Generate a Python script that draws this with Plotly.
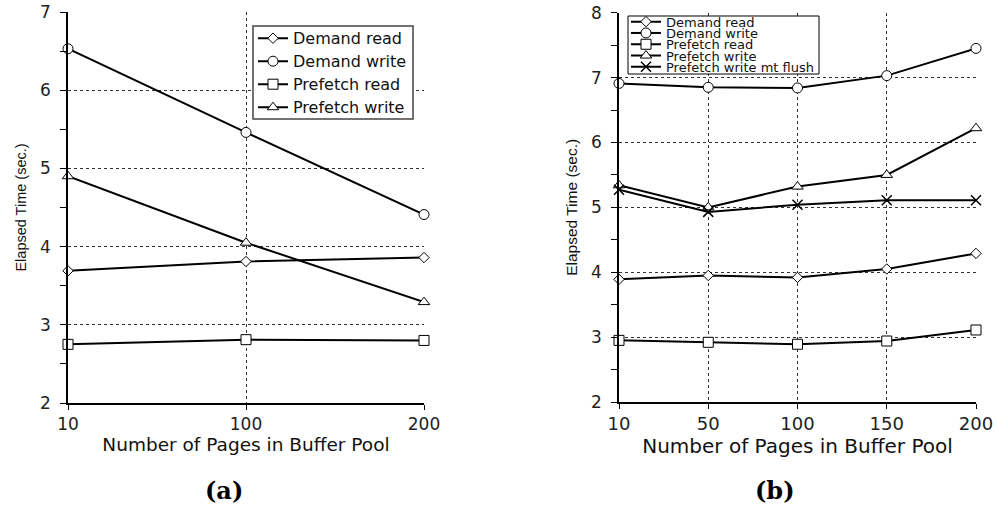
import plotly.graph_objects as go

# ---- data: panel (a) ----
pages_a = ["10", "100", "200"]
demand_read_a = [3.69, 3.81, 3.86]
demand_write_a = [6.53, 5.46, 4.41]
prefetch_read_a = [2.75, 2.81, 2.80]
prefetch_write_a = [4.90, 4.05, 3.29]

# ---- data: panel (b) ----
pages_b = ["10", "50", "100", "150", "200"]
demand_read_b = [3.89, 3.95, 3.92, 4.05, 4.29]
demand_write_b = [6.91, 6.85, 6.84, 7.03, 7.45]
prefetch_read_b = [2.95, 2.92, 2.89, 2.94, 3.11]
prefetch_write_b = [5.34, 5.00, 5.32, 5.50, 6.22]
prefetch_write_mt_b = [5.27, 4.93, 5.04, 5.11, 5.11]

series_names = ["Demand read", "Demand write", "Prefetch read", "Prefetch write",
                "Prefetch write mt flush"]
symbols = ["diamond", "circle", "square", "triangle-up", "x-thin"]
sizes = [8, 10, 10, 10, 10]

W, H = 997, 508
fig = go.Figure()


def px_x(p):
    return p / W


def px_y(p):
    return 1 - p / H


def legend_id(n):
    return "legend" if n == 1 else "legend%d" % n


def add_series(x, y, idx, xa, ya, legend):
    sym = symbols[idx]
    fig.add_trace(go.Scatter(
        x=x, y=y, name=series_names[idx], mode="lines+markers",
        xaxis=xa, yaxis=ya, legend=legend, cliponaxis=False,
        line=dict(color="black", width=2),
        marker=dict(symbol=sym, size=sizes[idx], color="white",
                    line=dict(color="black", width=1.5 if sym == "x-thin" else 1)),
    ))


# every legend row is its own legend so the rows can be placed exactly
# panel (a): legends 1-4
for i, ys in enumerate([demand_read_a, demand_write_a, prefetch_read_a, prefetch_write_a]):
    add_series(pages_a, ys, i, "x", "y", legend_id(i + 1))

# panel (b): legends 5-9
for i, ys in enumerate([demand_read_b, demand_write_b, prefetch_read_b,
                        prefetch_write_b, prefetch_write_mt_b]):
    add_series(pages_b, ys, i, "x2", "y2", legend_id(i + 5))


def xaxis(domain, n, anchor, tsize, xsize):
    return dict(
        domain=domain, anchor=anchor, type="category", range=[0, n - 1],
        automargin=False,
        showline=True, linecolor="black", linewidth=1.5,
        ticks="outside", ticklen=5, tickcolor="black", tickwidth=1,
        showgrid=True, gridcolor="#333", griddash="dot", gridwidth=1,
        tickfont=dict(family="DejaVu Sans", size=tsize, color="#222"), zeroline=False,
        title=dict(text="Number of Pages in Buffer Pool",
                   font=dict(family="DejaVu Sans", size=xsize, color="#111"), standoff=0),
    )


def yaxis(domain, rng, anchor, ysize):
    return dict(
        domain=domain, anchor=anchor, range=rng, dtick=1, automargin=False,
        showline=True, linecolor="black", linewidth=1.5,
        ticks="outside", ticklen=6, tickcolor="black", tickwidth=1,
        minor=dict(dtick=0.5, ticks="outside", ticklen=6, tickcolor="black", showgrid=False),
        showgrid=True, gridcolor="#333", griddash="dot", gridwidth=1,
        tickfont=dict(family="DejaVu Sans", size=17, color="#222"),
        zeroline=False, ticklabelstandoff=6,
        title=dict(text="Elapsed Time (sec.)",
                   font=dict(family="Liberation Sans", size=ysize, color="#111"), standoff=10),
    )


fig.update_layout(
    width=W, height=H, margin=dict(l=0, r=0, t=0, b=0, autoexpand=False),
    paper_bgcolor="white", plot_bgcolor="white", showlegend=True,
    xaxis=xaxis([px_x(68), px_x(424)], 3, "y", 17, 18.5),
    yaxis=yaxis([px_y(403), px_y(12)], [2, 7], "x", 14.5),
    xaxis2=xaxis([px_x(619), px_x(976)], 5, "y2", 18, 20),
    yaxis2=yaxis([px_y(402), px_y(12.7)], [2, 8], "x2", 15.5),
)

# legend rows: (legend number, left edge px, row centre px, font size)
rows_a = [38.3, 61.3, 84.3, 107.3]
rows_b = [21.7, 33.0, 44.3, 55.6, 66.8]
for k, yc in enumerate(rows_a):
    fig.update_layout({legend_id(k + 1): dict(
        x=px_x(253), y=px_y(yc), xanchor="left", yanchor="middle",
        bgcolor="rgba(0,0,0,0)", borderwidth=0, itemwidth=30,
        font=dict(family="DejaVu Sans", size=16, color="#111"),
    )})
for k, yc in enumerate(rows_b):
    fig.update_layout({legend_id(k + 5): dict(
        x=px_x(626), y=px_y(yc), xanchor="left", yanchor="middle",
        bgcolor="rgba(0,0,0,0)", borderwidth=0, itemwidth=30,
        font=dict(family="DejaVu Sans", size=13, color="#111"),
    )})

# opaque legend frames
fig.add_shape(type="rect", xref="paper", yref="paper",
              x0=px_x(253), x1=px_x(413), y0=px_y(119), y1=px_y(26),
              line=dict(color="#444", width=1.5), fillcolor="white", layer="above")
fig.add_shape(type="rect", xref="paper", yref="paper",
              x0=px_x(628), x1=px_x(819), y0=px_y(74), y1=px_y(16),
              line=dict(color="black", width=1), fillcolor="white", layer="above")

# panel captions
for label, xc in [("(a)", 224), ("(b)", 775)]:
    fig.add_annotation(text="<b>%s</b>" % label, x=px_x(xc), y=px_y(490),
                       xref="paper", yref="paper", showarrow=False,
                       xanchor="center", yanchor="middle",
                       font=dict(family="DejaVu Serif", size=24, color="black"))

fig.write_html("out.html")
